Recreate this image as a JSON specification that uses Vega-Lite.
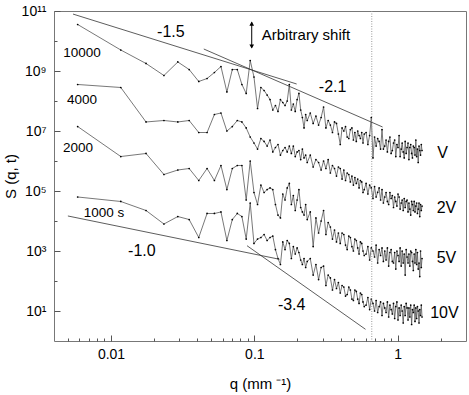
{
"$schema":"https://vega.github.io/schema/vega-lite/v6.json",
"width":412,"height":330,
"autosize":{"type":"none"},
"padding":{"left":54,"top":11,"right":3,"bottom":54},
"config":{"font":"Liberation Sans","view":{"stroke":"#777","strokeWidth":1},
 "axis":{"grid":false,"domain":false,"tickColor":"#555","tickWidth":1,"labelFont":"Liberation Sans","labelFontSize":14,"labelColor":"#000","titleFont":"Liberation Sans","titleFontSize":15,"titleFontWeight":"normal","titleColor":"#000","labelOverlap":false,"labelFlush":false}},
"datasets":{
"d":[
{"s":"V","q":0.00585,"S":3.55e10},{"s":"V","q":0.0117,"S":5.01e9},{"s":"V","q":0.01755,"S":1.78e9},{"s":"V","q":0.0234,"S":7.08e8},{"s":"V","q":0.02925,"S":2e9},{"s":"V","q":0.0351,"S":1.12e9},{"s":"V","q":0.04095,"S":4.47e8},{"s":"V","q":0.0468,"S":5.62e8},{"s":"V","q":0.05265,"S":8.91e8},{"s":"V","q":0.0585,"S":1.41e9},
{"s":"V","q":0.06435,"S":2e8},{"s":"V","q":0.0702,"S":1.12e9},{"s":"V","q":0.07605,"S":1.12e9},{"s":"V","q":0.0819,"S":3.55e8},{"s":"V","q":0.08775,"S":1.78e8},{"s":"V","q":0.0936,"S":2.24e9},{"s":"V","q":0.09945,"S":6.31e8},{"s":"V","q":0.1053,"S":5.62e7},{"s":"V","q":0.11115,"S":2.82e8},{"s":"V","q":0.117,"S":2.24e8},
{"s":"V","q":0.12285,"S":1.58e8},{"s":"V","q":0.1287,"S":1.12e8},{"s":"V","q":0.13455,"S":5.01e7},{"s":"V","q":0.1404,"S":7.08e7},{"s":"V","q":0.14625,"S":4.47e7},{"s":"V","q":0.1521,"S":1.12e8},{"s":"V","q":0.15795,"S":8.91e7},{"s":"V","q":0.1638,"S":7.08e7},{"s":"V","q":0.16965,"S":1e8},{"s":"V","q":0.1755,"S":3.55e8},
{"s":"V","q":0.18135,"S":5.01e7},{"s":"V","q":0.1872,"S":7.94e7},{"s":"V","q":0.19305,"S":4.47e7},{"s":"V","q":0.1989,"S":1.12e8},{"s":"V","q":0.20475,"S":1.78e8},{"s":"V","q":0.2106,"S":5.01e7},{"s":"V","q":0.21645,"S":2.82e7},{"s":"V","q":0.2223,"S":1.26e7},{"s":"V","q":0.22815,"S":3.55e7},{"s":"V","q":0.234,"S":2.24e7},
{"s":"V","q":0.2457,"S":3.98e7},{"s":"V","q":0.2574,"S":1.78e7},{"s":"V","q":0.2691,"S":3.16e7},{"s":"V","q":0.2808,"S":1.58e7},{"s":"V","q":0.2925,"S":2.82e7},{"s":"V","q":0.3042,"S":6.31e7},{"s":"V","q":0.3159,"S":1.26e7},{"s":"V","q":0.3276,"S":2.24e7},{"s":"V","q":0.3393,"S":1.58e7},{"s":"V","q":0.351,"S":8.91e6},
{"s":"V","q":0.3627,"S":2e7},{"s":"V","q":0.3744,"S":1.78e7},{"s":"V","q":0.3861,"S":7.94e6},{"s":"V","q":0.3978,"S":3.55e6},{"s":"V","q":0.4095,"S":1.26e7},{"s":"V","q":0.4212,"S":1e7},{"s":"V","q":0.4329,"S":1.41e7},{"s":"V","q":0.4446,"S":6.31e6},{"s":"V","q":0.4563,"S":5.62e6},{"s":"V","q":0.468,"S":1.12e7},
{"s":"V","q":0.4797,"S":1.26e7},{"s":"V","q":0.4914,"S":5.01e6},{"s":"V","q":0.5031,"S":8.91e6},{"s":"V","q":0.5148,"S":4.47e6},{"s":"V","q":0.5265,"S":1e7},{"s":"V","q":0.5382,"S":7.08e6},{"s":"V","q":0.5499,"S":5.62e6},{"s":"V","q":0.5616,"S":8.91e6},{"s":"V","q":0.5733,"S":3.98e6},{"s":"V","q":0.585,"S":7.94e6},
{"s":"V","q":0.6026,"S":8.91e6},{"s":"V","q":0.6201,"S":3.55e6},{"s":"V","q":0.6377,"S":7.08e6},{"s":"V","q":0.6552,"S":2.82e7},{"s":"V","q":0.6728,"S":1.26e6},{"s":"V","q":0.6903,"S":6.31e6},{"s":"V","q":0.7079,"S":3.16e6},{"s":"V","q":0.7254,"S":5.62e6},{"s":"V","q":0.743,"S":4.47e6},{"s":"V","q":0.7605,"S":2.51e6},
{"s":"V","q":0.7781,"S":1.12e7},{"s":"V","q":0.7956,"S":2.51e6},{"s":"V","q":0.8132,"S":3.16e6},{"s":"V","q":0.8307,"S":5.01e6},{"s":"V","q":0.8483,"S":2e6},{"s":"V","q":0.8658,"S":4.47e6},{"s":"V","q":0.8834,"S":6.31e6},{"s":"V","q":0.9009,"S":1.78e6},{"s":"V","q":0.9185,"S":2.24e6},{"s":"V","q":0.936,"S":3.98e6},
{"s":"V","q":0.9536,"S":5.01e6},{"s":"V","q":0.9711,"S":1.41e6},{"s":"V","q":0.9887,"S":3.55e6},{"s":"V","q":1.006,"S":2.82e6},{"s":"V","q":1.024,"S":7.08e6},{"s":"V","q":1.041,"S":1.41e6},{"s":"V","q":1.059,"S":2.51e6},{"s":"V","q":1.076,"S":3.98e6},{"s":"V","q":1.094,"S":2e6},{"s":"V","q":1.112,"S":1.26e6},
{"s":"V","q":1.129,"S":4.47e6},{"s":"V","q":1.147,"S":1.78e6},{"s":"V","q":1.164,"S":2.82e6},{"s":"V","q":1.182,"S":3.98e6},{"s":"V","q":1.199,"S":1.12e6},{"s":"V","q":1.217,"S":2.82e6},{"s":"V","q":1.234,"S":3.55e6},{"s":"V","q":1.252,"S":1.78e6},{"s":"V","q":1.269,"S":1.26e6},{"s":"V","q":1.287,"S":3.16e6},
{"s":"V","q":1.305,"S":2.82e6},{"s":"V","q":1.322,"S":1.58e6},{"s":"V","q":1.34,"S":5.01e6},{"s":"V","q":1.357,"S":1.41e6},{"s":"V","q":1.375,"S":2.51e6},{"s":"V","q":1.392,"S":8.91e5},{"s":"V","q":1.41,"S":3.16e6},{"s":"V","q":1.427,"S":2.24e6},{"s":"V","q":1.445,"S":1.58e6},{"s":"V","q":1.463,"S":3.55e6},{"s":"V","q":1.48,"S":2.24e6},

{"s":"2V","q":0.00585,"S":3.55e8},{"s":"2V","q":0.0117,"S":2.82e8},{"s":"2V","q":0.01755,"S":2e7},{"s":"2V","q":0.0234,"S":2.24e7},{"s":"2V","q":0.02925,"S":2e7},{"s":"2V","q":0.0351,"S":2.24e7},{"s":"2V","q":0.04095,"S":8.91e6},{"s":"2V","q":0.0468,"S":8.91e6},{"s":"2V","q":0.05265,"S":3.55e7},{"s":"2V","q":0.0585,"S":3.98e7},
{"s":"2V","q":0.06435,"S":1e7},{"s":"2V","q":0.0702,"S":1.41e7},{"s":"2V","q":0.07605,"S":2.24e7},{"s":"2V","q":0.0819,"S":2e7},{"s":"2V","q":0.08775,"S":1.26e7},{"s":"2V","q":0.0936,"S":6.31e6},{"s":"2V","q":0.09945,"S":3.98e6},{"s":"2V","q":0.1053,"S":2.51e6},{"s":"2V","q":0.11115,"S":5.62e6},{"s":"2V","q":0.117,"S":4.47e6},
{"s":"2V","q":0.12285,"S":3.16e6},{"s":"2V","q":0.1287,"S":5.01e6},{"s":"2V","q":0.13455,"S":2e6},{"s":"2V","q":0.1404,"S":2.82e6},{"s":"2V","q":0.14625,"S":3.55e6},{"s":"2V","q":0.1521,"S":1.58e6},{"s":"2V","q":0.15795,"S":2.24e6},{"s":"2V","q":0.1638,"S":2.82e6},{"s":"2V","q":0.16965,"S":2e6},{"s":"2V","q":0.1755,"S":3.16e6},
{"s":"2V","q":0.18135,"S":1.78e6},{"s":"2V","q":0.1872,"S":3.16e6},{"s":"2V","q":0.19305,"S":1.41e6},{"s":"2V","q":0.1989,"S":2e6},{"s":"2V","q":0.20475,"S":2.24e6},{"s":"2V","q":0.2106,"S":1.12e6},{"s":"2V","q":0.21645,"S":2.51e6},{"s":"2V","q":0.2223,"S":1.26e6},{"s":"2V","q":0.22815,"S":1.58e6},{"s":"2V","q":0.234,"S":8.91e5},
{"s":"2V","q":0.2457,"S":1.58e6},{"s":"2V","q":0.2574,"S":6.31e5},{"s":"2V","q":0.2691,"S":1.12e6},{"s":"2V","q":0.2808,"S":8.91e5},{"s":"2V","q":0.2925,"S":5.01e5},{"s":"2V","q":0.3042,"S":1e6},{"s":"2V","q":0.3159,"S":5.62e5},{"s":"2V","q":0.3276,"S":1.12e6},{"s":"2V","q":0.3393,"S":3.98e5},{"s":"2V","q":0.351,"S":7.08e5},
{"s":"2V","q":0.3627,"S":5.62e5},{"s":"2V","q":0.3744,"S":3.16e5},{"s":"2V","q":0.3861,"S":6.31e5},{"s":"2V","q":0.3978,"S":5.62e5},{"s":"2V","q":0.4095,"S":2.51e5},{"s":"2V","q":0.4212,"S":5.01e5},{"s":"2V","q":0.4329,"S":2.24e5},{"s":"2V","q":0.4446,"S":3.98e5},{"s":"2V","q":0.4563,"S":3.55e5},{"s":"2V","q":0.468,"S":2e5},
{"s":"2V","q":0.4797,"S":3.16e5},{"s":"2V","q":0.4914,"S":1.58e5},{"s":"2V","q":0.5031,"S":2.82e5},{"s":"2V","q":0.5148,"S":1.78e5},{"s":"2V","q":0.5265,"S":2.51e5},{"s":"2V","q":0.5382,"S":1.26e5},{"s":"2V","q":0.5499,"S":2.24e5},{"s":"2V","q":0.5616,"S":2e5},{"s":"2V","q":0.5733,"S":8.91e4},{"s":"2V","q":0.585,"S":1.12e5},
{"s":"2V","q":0.6026,"S":1.78e5},{"s":"2V","q":0.6201,"S":7.94e4},{"s":"2V","q":0.6377,"S":1.58e5},{"s":"2V","q":0.6552,"S":1.26e5},{"s":"2V","q":0.6728,"S":5.62e4},{"s":"2V","q":0.6903,"S":1.41e5},{"s":"2V","q":0.7079,"S":6.31e4},{"s":"2V","q":0.7254,"S":9e4},{"s":"2V","q":0.743,"S":1.26e5},{"s":"2V","q":0.7605,"S":5.01e4},
{"s":"2V","q":0.7781,"S":1.12e5},{"s":"2V","q":0.7956,"S":3.98e4},{"s":"2V","q":0.8132,"S":6.31e4},{"s":"2V","q":0.8307,"S":8.91e4},{"s":"2V","q":0.8483,"S":4.47e4},{"s":"2V","q":0.8658,"S":3.55e4},{"s":"2V","q":0.8834,"S":8.91e4},{"s":"2V","q":0.9009,"S":5.62e4},{"s":"2V","q":0.9185,"S":7.08e4},{"s":"2V","q":0.936,"S":2.82e4},
{"s":"2V","q":0.9536,"S":6.31e4},{"s":"2V","q":0.9711,"S":4.47e4},{"s":"2V","q":0.9887,"S":3.16e4},{"s":"2V","q":1.006,"S":7.94e4},{"s":"2V","q":1.024,"S":6.31e4},{"s":"2V","q":1.041,"S":2.51e4},{"s":"2V","q":1.059,"S":3.98e4},{"s":"2V","q":1.076,"S":5.01e4},{"s":"2V","q":1.094,"S":2.24e4},{"s":"2V","q":1.112,"S":5.62e4},
{"s":"2V","q":1.129,"S":2.82e4},{"s":"2V","q":1.147,"S":4.47e4},{"s":"2V","q":1.164,"S":5.01e4},{"s":"2V","q":1.182,"S":2e4},{"s":"2V","q":1.199,"S":3.98e4},{"s":"2V","q":1.217,"S":2.51e4},{"s":"2V","q":1.234,"S":1.58e4},{"s":"2V","q":1.252,"S":4.47e4},{"s":"2V","q":1.269,"S":3.55e4},{"s":"2V","q":1.287,"S":2.24e4},
{"s":"2V","q":1.305,"S":4.47e4},{"s":"2V","q":1.322,"S":2e4},{"s":"2V","q":1.34,"S":3.16e4},{"s":"2V","q":1.357,"S":3.98e4},{"s":"2V","q":1.375,"S":1.78e4},{"s":"2V","q":1.392,"S":2.51e4},{"s":"2V","q":1.41,"S":3.98e4},{"s":"2V","q":1.427,"S":1.41e4},{"s":"2V","q":1.445,"S":3.55e4},{"s":"2V","q":1.463,"S":2.24e4},{"s":"2V","q":1.48,"S":3.16e4},

{"s":"5V","q":0.00585,"S":1.41e7},{"s":"5V","q":0.0117,"S":1.41e6},{"s":"5V","q":0.01755,"S":1.78e6},{"s":"5V","q":0.0234,"S":3.55e5},{"s":"5V","q":0.02925,"S":5.01e5},{"s":"5V","q":0.0351,"S":5.62e5},{"s":"5V","q":0.04095,"S":2.24e5},{"s":"5V","q":0.0468,"S":5.62e5},{"s":"5V","q":0.05265,"S":2.24e5},{"s":"5V","q":0.0585,"S":7.08e5},
{"s":"5V","q":0.06435,"S":1.12e5},{"s":"5V","q":0.0702,"S":5.62e5},{"s":"5V","q":0.07605,"S":7.08e5},{"s":"5V","q":0.0819,"S":7.08e5},{"s":"5V","q":0.08775,"S":5.01e4},{"s":"5V","q":0.0936,"S":1e6},{"s":"5V","q":0.09945,"S":8.91e4},{"s":"5V","q":0.1053,"S":3.55e4},{"s":"5V","q":0.11115,"S":1.58e5},{"s":"5V","q":0.117,"S":8.91e4},
{"s":"5V","q":0.12285,"S":1.12e5},{"s":"5V","q":0.1287,"S":1.26e5},{"s":"5V","q":0.13455,"S":1.12e5},{"s":"5V","q":0.1404,"S":3.55e4},{"s":"5V","q":0.14625,"S":1.58e4},{"s":"5V","q":0.1521,"S":1.26e4},{"s":"5V","q":0.15795,"S":7.94e4},{"s":"5V","q":0.1638,"S":5.01e4},{"s":"5V","q":0.16965,"S":1.26e5},{"s":"5V","q":0.1755,"S":1.78e5},
{"s":"5V","q":0.18135,"S":3.55e4},{"s":"5V","q":0.1872,"S":7.08e4},{"s":"5V","q":0.19305,"S":2.24e4},{"s":"5V","q":0.1989,"S":5.01e4},{"s":"5V","q":0.20475,"S":1.12e5},{"s":"5V","q":0.2106,"S":2.82e4},{"s":"5V","q":0.21645,"S":2e4},{"s":"5V","q":0.2223,"S":1.58e4},{"s":"5V","q":0.22815,"S":3.55e4},{"s":"5V","q":0.234,"S":1.12e4},
{"s":"5V","q":0.2457,"S":2e4},{"s":"5V","q":0.2574,"S":1.41e3},{"s":"5V","q":0.2691,"S":1.26e4},{"s":"5V","q":0.2808,"S":3.98e3},{"s":"5V","q":0.2925,"S":1e4},{"s":"5V","q":0.3042,"S":2.24e4},{"s":"5V","q":0.3159,"S":3.55e3},{"s":"5V","q":0.3276,"S":8.91e3},{"s":"5V","q":0.3393,"S":6.31e3},{"s":"5V","q":0.351,"S":2.51e3},
{"s":"5V","q":0.3627,"S":5.01e3},{"s":"5V","q":0.3744,"S":2e3},{"s":"5V","q":0.3861,"S":3.98e3},{"s":"5V","q":0.3978,"S":1.78e3},{"s":"5V","q":0.4095,"S":3.98e3},{"s":"5V","q":0.4212,"S":3.55e3},{"s":"5V","q":0.4329,"S":1.58e3},{"s":"5V","q":0.4446,"S":1.12e3},{"s":"5V","q":0.4563,"S":3.16e3},{"s":"5V","q":0.468,"S":2.82e3},
{"s":"5V","q":0.4797,"S":1.41e3},{"s":"5V","q":0.4914,"S":1e3},{"s":"5V","q":0.5031,"S":2.51e3},{"s":"5V","q":0.5148,"S":2.24e3},{"s":"5V","q":0.5265,"S":1.26e3},{"s":"5V","q":0.5382,"S":794},{"s":"5V","q":0.5499,"S":2e3},{"s":"5V","q":0.5616,"S":1.78e3},{"s":"5V","q":0.5733,"S":1e3},{"s":"5V","q":0.585,"S":708},
{"s":"5V","q":0.6026,"S":794},{"s":"5V","q":0.6201,"S":1.41e3},{"s":"5V","q":0.6377,"S":501},{"s":"5V","q":0.6552,"S":1.26e3},{"s":"5V","q":0.6728,"S":1e3},{"s":"5V","q":0.6903,"S":631},{"s":"5V","q":0.7079,"S":1.58e3},{"s":"5V","q":0.7254,"S":398},{"s":"5V","q":0.743,"S":1.12e3},{"s":"5V","q":0.7605,"S":708},
{"s":"5V","q":0.7781,"S":1.26e3},{"s":"5V","q":0.7956,"S":447},{"s":"5V","q":0.8132,"S":1e3},{"s":"5V","q":0.8307,"S":501},{"s":"5V","q":0.8483,"S":1.26e3},{"s":"5V","q":0.8658,"S":316},{"s":"5V","q":0.8834,"S":891},{"s":"5V","q":0.9009,"S":1.12e3},{"s":"5V","q":0.9185,"S":447},{"s":"5V","q":0.936,"S":398},
{"s":"5V","q":0.9536,"S":891},{"s":"5V","q":0.9711,"S":251},{"s":"5V","q":0.9887,"S":1e3},{"s":"5V","q":1.006,"S":708},{"s":"5V","q":1.024,"S":447},{"s":"5V","q":1.041,"S":1.26e3},{"s":"5V","q":1.059,"S":316},{"s":"5V","q":1.076,"S":1e3},{"s":"5V","q":1.094,"S":398},{"s":"5V","q":1.112,"S":794},
{"s":"5V","q":1.129,"S":158},{"s":"5V","q":1.147,"S":1.12e3},{"s":"5V","q":1.164,"S":631},{"s":"5V","q":1.182,"S":398},{"s":"5V","q":1.199,"S":794},{"s":"5V","q":1.217,"S":316},{"s":"5V","q":1.234,"S":1e3},{"s":"5V","q":1.252,"S":891},{"s":"5V","q":1.269,"S":447},{"s":"5V","q":1.287,"S":224},
{"s":"5V","q":1.305,"S":794},{"s":"5V","q":1.322,"S":398},{"s":"5V","q":1.34,"S":1.12e3},{"s":"5V","q":1.357,"S":355},{"s":"5V","q":1.375,"S":891},{"s":"5V","q":1.392,"S":251},{"s":"5V","q":1.41,"S":398},{"s":"5V","q":1.427,"S":141},{"s":"5V","q":1.445,"S":1e3},{"s":"5V","q":1.463,"S":282},{"s":"5V","q":1.48,"S":562},

{"s":"10V","q":0.00585,"S":6.31e4},{"s":"10V","q":0.0117,"S":4.47e4},{"s":"10V","q":0.01755,"S":2.24e4},{"s":"10V","q":0.0234,"S":7.94e3},{"s":"10V","q":0.02925,"S":1.41e4},{"s":"10V","q":0.0351,"S":1.12e4},{"s":"10V","q":0.04095,"S":2.82e3},{"s":"10V","q":0.0468,"S":1.78e4},{"s":"10V","q":0.05265,"S":1.78e4},{"s":"10V","q":0.0585,"S":2e4},
{"s":"10V","q":0.06435,"S":2.24e3},{"s":"10V","q":0.0702,"S":1.12e4},{"s":"10V","q":0.07605,"S":1.78e4},{"s":"10V","q":0.0819,"S":1.41e4},{"s":"10V","q":0.08775,"S":2.51e3},{"s":"10V","q":0.0936,"S":3.98e4},{"s":"10V","q":0.09945,"S":1.78e3},{"s":"10V","q":0.1053,"S":2.51e3},{"s":"10V","q":0.11115,"S":2.82e3},{"s":"10V","q":0.117,"S":3.55e3},
{"s":"10V","q":0.12285,"S":2.24e3},{"s":"10V","q":0.1287,"S":2.82e3},{"s":"10V","q":0.13455,"S":3.16e3},{"s":"10V","q":0.1404,"S":1.12e3},{"s":"10V","q":0.14625,"S":562},{"s":"10V","q":0.1521,"S":355},{"s":"10V","q":0.15795,"S":2e3},{"s":"10V","q":0.1638,"S":1.12e3},{"s":"10V","q":0.16965,"S":2.24e3},{"s":"10V","q":0.1755,"S":1.78e3},
{"s":"10V","q":0.18135,"S":562},{"s":"10V","q":0.1872,"S":1.41e3},{"s":"10V","q":0.19305,"S":794},{"s":"10V","q":0.1989,"S":1.26e3},{"s":"10V","q":0.20475,"S":891},{"s":"10V","q":0.2106,"S":501},{"s":"10V","q":0.21645,"S":355},{"s":"10V","q":0.2223,"S":562},{"s":"10V","q":0.22815,"S":282},{"s":"10V","q":0.234,"S":447},
{"s":"10V","q":0.2457,"S":562},{"s":"10V","q":0.2574,"S":158},{"s":"10V","q":0.2691,"S":355},{"s":"10V","q":0.2808,"S":112},{"s":"10V","q":0.2925,"S":282},{"s":"10V","q":0.3042,"S":316},{"s":"10V","q":0.3159,"S":70.8},{"s":"10V","q":0.3276,"S":158},{"s":"10V","q":0.3393,"S":126},{"s":"10V","q":0.351,"S":50.1},
{"s":"10V","q":0.3627,"S":112},{"s":"10V","q":0.3744,"S":56.2},{"s":"10V","q":0.3861,"S":89.1},{"s":"10V","q":0.3978,"S":39.8},{"s":"10V","q":0.4095,"S":70.8},{"s":"10V","q":0.4212,"S":63.1},{"s":"10V","q":0.4329,"S":31.6},{"s":"10V","q":0.4446,"S":35.5},{"s":"10V","q":0.4563,"S":63.1},{"s":"10V","q":0.468,"S":50.1},
{"s":"10V","q":0.4797,"S":25.1},{"s":"10V","q":0.4914,"S":22.4},{"s":"10V","q":0.5031,"S":50.1},{"s":"10V","q":0.5148,"S":44.7},{"s":"10V","q":0.5265,"S":25.1},{"s":"10V","q":0.5382,"S":17.8},{"s":"10V","q":0.5499,"S":39.8},{"s":"10V","q":0.5616,"S":35.5},{"s":"10V","q":0.5733,"S":20},{"s":"10V","q":0.585,"S":14.1},
{"s":"10V","q":0.6026,"S":15.8},{"s":"10V","q":0.6201,"S":28.2},{"s":"10V","q":0.6377,"S":11.2},{"s":"10V","q":0.6552,"S":25.1},{"s":"10V","q":0.6728,"S":17.8},{"s":"10V","q":0.6903,"S":10},{"s":"10V","q":0.7079,"S":22.4},{"s":"10V","q":0.7254,"S":8.91},{"s":"10V","q":0.743,"S":14.1},{"s":"10V","q":0.7605,"S":20},
{"s":"10V","q":0.7781,"S":7.08},{"s":"10V","q":0.7956,"S":17.8},{"s":"10V","q":0.8132,"S":12.6},{"s":"10V","q":0.8307,"S":8.91},{"s":"10V","q":0.8483,"S":20},{"s":"10V","q":0.8658,"S":6.31},{"s":"10V","q":0.8834,"S":15.8},{"s":"10V","q":0.9009,"S":11.2},{"s":"10V","q":0.9185,"S":7.94},{"s":"10V","q":0.936,"S":17.8},
{"s":"10V","q":0.9536,"S":5.62},{"s":"10V","q":0.9711,"S":14.1},{"s":"10V","q":0.9887,"S":20},{"s":"10V","q":1.006,"S":5.01},{"s":"10V","q":1.024,"S":12.6},{"s":"10V","q":1.041,"S":7.08},{"s":"10V","q":1.059,"S":15.8},{"s":"10V","q":1.076,"S":10},{"s":"10V","q":1.094,"S":3.98},{"s":"10V","q":1.112,"S":14.1},
{"s":"10V","q":1.129,"S":7.08},{"s":"10V","q":1.147,"S":17.8},{"s":"10V","q":1.164,"S":12.6},{"s":"10V","q":1.182,"S":5.01},{"s":"10V","q":1.199,"S":12.6},{"s":"10V","q":1.217,"S":6.31},{"s":"10V","q":1.234,"S":15.8},{"s":"10V","q":1.252,"S":3.55},{"s":"10V","q":1.269,"S":11.2},{"s":"10V","q":1.287,"S":8.91},
{"s":"10V","q":1.305,"S":15.8},{"s":"10V","q":1.322,"S":4.47},{"s":"10V","q":1.34,"S":12.6},{"s":"10V","q":1.357,"S":5.62},{"s":"10V","q":1.375,"S":14.1},{"s":"10V","q":1.392,"S":10},{"s":"10V","q":1.41,"S":3.98},{"s":"10V","q":1.427,"S":11.2},{"s":"10V","q":1.445,"S":7.08},{"s":"10V","q":1.463,"S":15.8},{"s":"10V","q":1.48,"S":6.31}
],
"fits":[
{"k":"A","q":0.00543,"S":7.9e10},{"k":"A","q":0.1974,"S":3.69e8},
{"k":"B","q":0.0444,"S":5.41e9},{"k":"B","q":0.785,"S":1.36e7},
{"k":"C","q":0.005,"S":1.47e4},{"k":"C","q":0.15,"S":529},
{"k":"D","q":0.0889,"S":1503},{"k":"D","q":0.597,"S":2.45}
],
"vl":[{"q":0.66}],
"arr":[{"q":0.0959,"S":4.2e10,"S2":6e9}],
"heads":[{"q":0.0959,"S":3.8e10,"d":"up"},{"q":0.0959,"S":6.6e9,"d":"down"}],
"slopes":[{"q":0.02615,"S":2.0e10,"t":"-1.5"},{"q":0.352,"S":2.93e8,"t":"-2.1"},{"q":0.01641,"S":1000,"t":"-1.0"},{"q":0.1822,"S":15.8,"t":"-3.4"}],
"times":[{"q":0.00627,"S":3.98e9,"t":"10000"},{"q":0.00627,"S":1.08e8,"t":"4000"},{"q":0.00588,"S":2.71e6,"t":"2000"},{"q":0.00892,"S":1.85e4,"t":"1000 s"}],
"names":[{"q":2.055,"S":1.85e6,"t":"V"},{"q":2.19,"S":2.71e4,"t":"2V"},{"q":2.19,"S":585,"t":"5V"},{"q":2.12,"S":8.58,"t":"10V"}],
"note":[{"q":0.1126,"S":1.58e10,"t":"Arbitrary shift"}]
},
"layer":[
{"data":{"name":"d"},"mark":{"type":"line","color":"#555","strokeWidth":0.8},
 "encoding":{
  "x":{"field":"q","type":"quantitative","scale":{"type":"log","domain":[0.004,3],"nice":false},
   "axis":{"values":[0.005,0.006,0.007,0.008,0.009,0.01,0.02,0.03,0.04,0.05,0.06,0.07,0.08,0.09,0.1,0.2,0.3,0.4,0.5,0.6,0.7,0.8,0.9,1,2],
    "labelExpr":"datum.value==0.01?'0.01':datum.value==0.1?'0.1':datum.value==1?'1':''",
    "tickSize":{"condition":{"test":"datum.value==0.01||datum.value==0.1||datum.value==1","value":-6},"value":-3},
    "labelPadding":12,"title":"q (mm ⁻¹)","titlePadding":12}},
  "y":{"field":"S","type":"quantitative","scale":{"type":"log","domain":[1,1e11],"nice":false},
   "axis":{"values":[10,100,1000,10000,100000,1000000,10000000,100000000,1000000000,10000000000,100000000000],
    "labelExpr":"datum.value==10?'10¹':datum.value==1000?'10³':datum.value==100000?'10⁵':datum.value==10000000?'10⁷':datum.value==1000000000?'10⁹':datum.value==100000000000?'10¹¹':''",
    "tickSize":{"condition":{"test":"datum.value==10||datum.value==1000||datum.value==100000||datum.value==10000000||datum.value==1000000000||datum.value==100000000000","value":-6},"value":-3},
    "labelPadding":14,"title":"S (q, t)","titlePadding":3}},
  "detail":{"field":"s"}}},
{"data":{"name":"d"},"mark":{"type":"circle","size":3,"color":"#000","opacity":1},
 "encoding":{"x":{"field":"q","type":"quantitative"},"y":{"field":"S","type":"quantitative"}}},
{"data":{"name":"fits"},"mark":{"type":"line","color":"#333","strokeWidth":0.8},
 "encoding":{"x":{"field":"q","type":"quantitative"},"y":{"field":"S","type":"quantitative"},"detail":{"field":"k"}}},
{"data":{"name":"vl"},"mark":{"type":"rule","color":"#999","strokeDash":[1,1.5],"strokeWidth":1},
 "encoding":{"x":{"field":"q","type":"quantitative"}}},
{"data":{"name":"arr"},"mark":{"type":"rule","color":"#000","strokeWidth":1},
 "encoding":{"x":{"field":"q","type":"quantitative"},"y":{"field":"S","type":"quantitative"},"y2":{"field":"S2"}}},
{"data":{"name":"heads"},"mark":{"type":"point","filled":true,"color":"#000","opacity":1,"size":22},
 "encoding":{"x":{"field":"q","type":"quantitative"},"y":{"field":"S","type":"quantitative"},
  "shape":{"field":"d","type":"nominal","scale":{"domain":["up","down"],"range":["triangle-up","triangle-down"]},"legend":null}}},
{"data":{"name":"slopes"},"mark":{"type":"text","fontSize":16,"font":"Liberation Sans","color":"#000"},
 "encoding":{"x":{"field":"q","type":"quantitative"},"y":{"field":"S","type":"quantitative"},"text":{"field":"t"}}},
{"data":{"name":"times"},"mark":{"type":"text","fontSize":13.5,"font":"Liberation Sans","color":"#000"},
 "encoding":{"x":{"field":"q","type":"quantitative"},"y":{"field":"S","type":"quantitative"},"text":{"field":"t"}}},
{"data":{"name":"names"},"mark":{"type":"text","fontSize":16,"font":"Liberation Sans","color":"#000"},
 "encoding":{"x":{"field":"q","type":"quantitative"},"y":{"field":"S","type":"quantitative"},"text":{"field":"t"}}},
{"data":{"name":"note"},"mark":{"type":"text","fontSize":15,"font":"Liberation Sans","color":"#000","align":"left"},
 "encoding":{"x":{"field":"q","type":"quantitative"},"y":{"field":"S","type":"quantitative"},"text":{"field":"t"}}}
]
}
